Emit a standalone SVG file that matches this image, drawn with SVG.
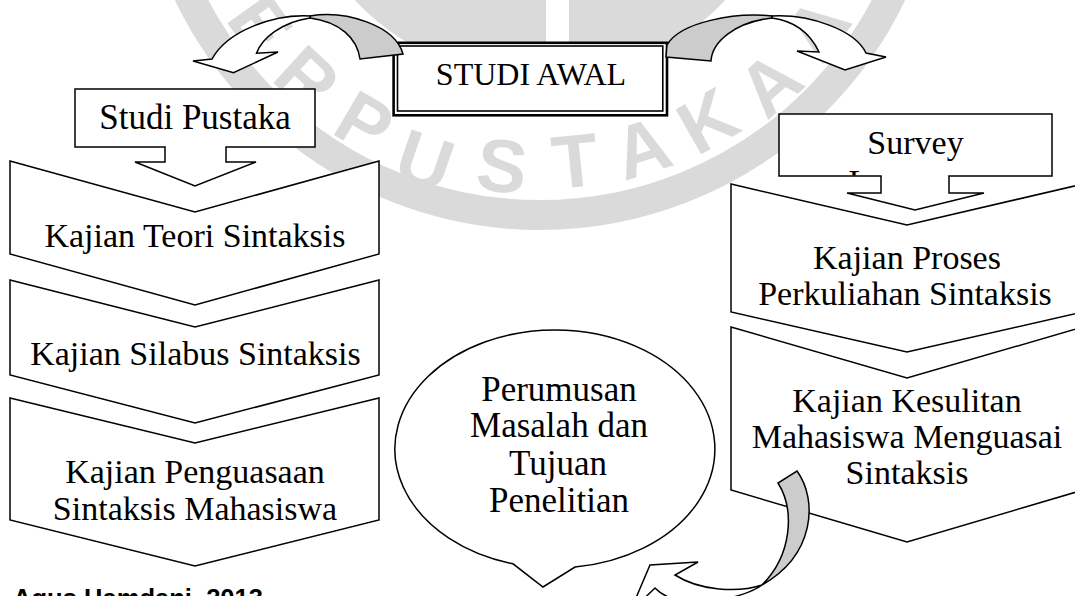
<svg xmlns="http://www.w3.org/2000/svg" width="1075" height="596" viewBox="0 0 1075 596">
<defs>
<style>
.shape{fill:#fff;stroke:#000;stroke-width:1.5;stroke-linejoin:miter}
.back{fill:#cccccc;stroke:#000;stroke-width:1.5;stroke-linejoin:miter}
.t{font-family:"Liberation Serif","Times New Roman",serif;font-size:34px;fill:#000;text-anchor:middle}
.wm{font-family:"Liberation Sans",Arial,sans-serif;font-weight:bold;font-size:75px;fill:#dadada;text-anchor:middle}
</style>
<clipPath id="surveyClip"><rect x="780" y="115" width="271" height="60.5"/></clipPath>
</defs>
<rect width="1075" height="596" fill="#fff"/>
<g id="watermark">
<circle cx="540" cy="-175" r="255" fill="#dadada"/>
<rect x="546" y="0" width="23" height="90" fill="#fff"/>
<circle cx="540" cy="-175" r="390" fill="none" stroke="#dadada" stroke-width="30"/>
<text class="wm" transform="translate(261,24) rotate(54.5)" x="0" y="27">E</text>
<text class="wm" transform="translate(308,78) rotate(42.5)" x="0" y="27">R</text>
<text class="wm" transform="translate(365,122) rotate(30.5)" x="0" y="27">P</text>
<text class="wm" transform="translate(425,160) rotate(18.9)" x="0" y="27">U</text>
<text class="wm" transform="translate(502,165) rotate(6.4)" x="0" y="27">S</text>
<text class="wm" transform="translate(575,160) rotate(-6)" x="0" y="27">T</text>
<text class="wm" transform="translate(642,147) rotate(-17.6)" x="0" y="27">A</text>
<text class="wm" transform="translate(707,120) rotate(-29.5)" x="0" y="27">K</text>
<text class="wm" transform="translate(769,83) rotate(-41.6)" x="0" y="27">A</text>
<text class="wm" transform="translate(816,28) rotate(-53.6)" x="0" y="27">A</text>
</g>
<g id="studi-awal">
<rect x="393.6" y="42.8" width="273.4" height="72.5" fill="#fff" stroke="#000" stroke-width="2.6"/>
<rect x="397.5" y="46" width="265.3" height="65" fill="none" stroke="#000" stroke-width="1.6"/>
<text class="t" x="531" y="85" style="font-size:32px">STUDI AWAL</text>
</g>
<g id="studi-pustaka">
<path class="shape" d="M75,89 H315 V147 H226 V162 H256 L195,186 L135,162 H165 V147 H75 Z"/>
<text class="t" x="195" y="129" style="font-size:35px">Studi Pustaka</text>
</g>
<g id="survey">
<path class="shape" d="M779,114 H1052 V176 H949 V193 H984 L915,210 L847,193 H881 V176 H779 Z"/>
<text class="t" x="915.5" y="154">Survey</text>
<text class="t" x="915.5" y="193" clip-path="url(#surveyClip)">Lapangan</text>
</g>
<g id="kajian-teori">
<polygon class="shape" points="10,161 195,212 379,161 379,254 195,305 10,254"/>
<text class="t" x="195" y="247">Kajian Teori Sintaksis</text>
</g>
<g id="kajian-silabus">
<polygon class="shape" points="10,280 195,327 379,280 379,375 195,423 10,375"/>
<text class="t" x="195.5" y="365">Kajian Silabus Sintaksis</text>
</g>
<g id="kajian-penguasaan">
<polygon class="shape" points="10,398 195,443 379,398 379,520 195,566 10,520"/>
<text class="t" x="195" y="483">Kajian Penguasaan</text>
<text class="t" x="195" y="520">Sintaksis Mahasiswa</text>
</g>
<g id="kajian-proses">
<polygon class="shape" points="731,184 907,225 1083,184 1083,312 907,352 731,312"/>
<text class="t" x="907" y="269">Kajian Proses</text>
<text class="t" x="905" y="305">Perkuliahan Sintaksis</text>
</g>
<g id="kajian-kesulitan">
<polygon class="shape" points="731,327 907,378 1083,327 1083,490 907,542 731,490"/>
<text class="t" x="907" y="412">Kajian Kesulitan</text>
<text class="t" x="907" y="448">Mahasiswa Menguasai</text>
<text class="t" x="907" y="484">Sintaksis</text>
</g>
<g id="perumusan">
<path class="shape" d="M513,563.8 A160,119 0 1 1 575,567 L543,587 Z"/>
<text class="t" x="559" y="401" style="font-size:35px">Perumusan</text>
<text class="t" x="559" y="437" style="font-size:35px">Masalah dan</text>
<text class="t" x="558" y="475" style="font-size:35px">Tujuan</text>
<text class="t" x="559" y="512" style="font-size:35px">Penelitian</text>
</g>
<g id="connectors">
<path class="back" d="M310,16 C345,10 395,25 403,54 L360,59 C357,38 340,22 310,18 Z"/>
<path class="shape" d="M310,16 C275,14 228,30 212,59 L193,61 L233.5,72.7 L278,52 L256.5,53.3 C262,38 282,22 310,18 Z"/>
<path class="back" d="M772,16 C735,12 680,22 667,45 L666,57 L711,61 C712,42 735,22 772,18 Z"/>
<path class="shape" d="M772,16 C810,14 855,30 866,53 L886,57 L845,70 L797,51 L819,52 C810,33 795,21 772,18 Z"/>
<path class="back" d="M797,471 C818,500 815,555 762,585 C792,555 795,510 778,483 Z"/>
<path class="shape" d="M762,585 C738,593 700,591 675,575 L698,562 L650,565 L630,612 L655,588 C680,614 745,598 762,585 Z"/>
</g>
<text x="13" y="607" textLength="250" lengthAdjust="spacingAndGlyphs" style="font-family:'Liberation Sans',Arial,sans-serif;font-weight:bold;font-size:25px;fill:#000">Agus Hamdani, 2013</text>
</svg>
